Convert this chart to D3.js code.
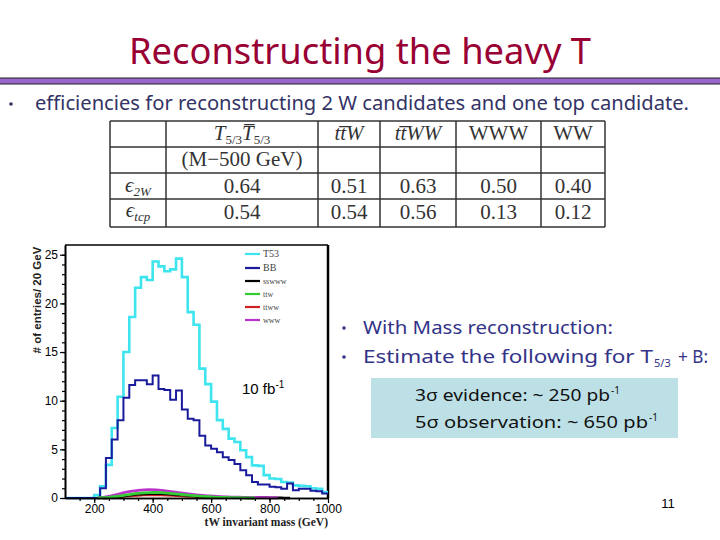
<!DOCTYPE html>
<html><head><meta charset="utf-8">
<script src="https://cdn.jsdelivr.net/npm/d3@7"></script>
<style>body{margin:0;background:#fff}svg{display:block}</style>
</head><body>
<svg id="c" width="720" height="540"></svg>
<script>
// ---- data ----
const binStart = [100,120,140,160,180,200,220,240,260,280,300,320,340,360,380,400,420,440,460,480,500,520,540,560,580,600,620,640,660,680,700,720,740,760,780,800,820,840,860,880,900,920,940,960,980];
const binWidth = 20;
const t53   = [0,0,0,0,0,0.3,1.2,3.4,7.2,10.4,15.0,18.6,21.6,22.7,22.4,24.3,23.8,23.3,23.5,24.6,22.7,19.1,17.8,13.3,11.7,9.9,8.0,7.1,6.1,5.75,4.9,4.2,3.35,3.3,2.35,2.0,1.95,1.65,1.6,1.3,1.25,1.2,1.0,0.95,0.6];
const bb    = [0,0,0,0,0,0,1.0,4.1,6.0,8.0,10.3,11.6,12.1,12.1,11.7,12.6,11.2,11.1,10.1,11.05,9.1,8.15,8.0,6.4,5.4,5.05,4.7,4.2,3.9,3.5,2.85,2.35,1.65,1.4,1.4,1.15,1.1,0.95,1.5,0.8,0.95,0.95,0.75,0.7,0.45];
const sswww = [0,0,0,0,0,0,0,0.03,0.08,0.15,0.24,0.32,0.38,0.42,0.44,0.45,0.43,0.4,0.36,0.32,0.27,0.23,0.19,0.15,0.12,0.09,0.07,0.05,0.04,0.03,0.03,0.05,0.06,0.05,0.04,0.03,0.02,0.01,0,0,0,0,0,0,0];
const ttw   = [0,0,0,0,0,0,0.02,0.06,0.13,0.22,0.32,0.41,0.48,0.53,0.56,0.57,0.55,0.5,0.45,0.39,0.33,0.27,0.22,0.17,0.13,0.1,0.07,0.05,0.04,0.03,0.02,0.01,0,0,0,0,0,0,0,0,0,0,0,0,0];
const ttww  = [0,0,0,0,0,0,0,0.03,0.07,0.12,0.18,0.23,0.27,0.3,0.31,0.31,0.3,0.28,0.25,0.22,0.19,0.16,0.13,0.1,0.08,0.06,0.05,0.04,0.03,0.02,0.02,0.01,0,0,0,0,0,0,0,0,0,0,0,0,0];
const www   = [0,0,0,0,0,0,0.05,0.15,0.3,0.45,0.6,0.7,0.78,0.85,0.88,0.83,0.78,0.7,0.62,0.55,0.48,0.4,0.33,0.27,0.22,0.18,0.15,0.12,0.1,0.08,0.07,0.06,0.05,0.04,0.03,0.02,0,0,0,0,0,0,0,0,0];
const legendNames = ["T53","BB","sswww","ttw","ttww","www"];
const legendColors = ["#3ee4ee","#1a1a9c","#000000","#33cc33","#cc2222","#bb33cc"];
const yMajor = [0,5,10,15,20,25];
const xMajor = [200,400,600,800,1000];

const colHeads = ["(M\u2212500 GeV)"];
const eff2W  = ["0.64","0.51","0.63","0.50","0.40"];
const effTop = ["0.54","0.54","0.56","0.13","0.12"];

// ---- slide ----
const svg = d3.select("#c");
const comic = "'Comic Sans MS','Noto Sans',sans-serif";

svg.append("text").attr("x",360).attr("y",64).attr("text-anchor","middle")
  .attr("font-family",comic).attr("font-size",36).attr("fill","#990033")
  .attr("textLength",462).attr("lengthAdjust","spacingAndGlyphs")
  .text("Reconstructing the heavy T");
svg.append("rect").attr("x",-1).attr("y",78).attr("width",722).attr("height",6)
  .attr("fill","#9966cc").attr("stroke","#222").attr("stroke-width",1);

svg.append("circle").attr("cx",11).attr("cy",104).attr("r",1.8).attr("fill","#333366");
svg.append("text").attr("x",35).attr("y",110).attr("font-family",comic).attr("font-size",19).attr("fill","#333366")
  .attr("textLength",654).attr("lengthAdjust","spacingAndGlyphs")
  .text("efficiencies for reconstructing 2 W candidates and one top candidate.");

// ---- table ----
const tx = [110,166,318,380,456,541,605];
const ty = [121,147,173,199,227];
const tg = svg.append("g").attr("stroke","#333").attr("stroke-width",1.5);
ty.forEach(y=>tg.append("line").attr("x1",tx[0]).attr("x2",tx[6]).attr("y1",y).attr("y2",y));
tx.forEach(x=>tg.append("line").attr("x1",x).attr("x2",x).attr("y1",ty[0]).attr("y2",ty[4]));
const serif = "'Liberation Serif','DejaVu Serif',serif";
const cx = i => (tx[i]+tx[i+1])/2;
function cell(i, row, builder){
  const t = svg.append("text").attr("x",cx(i)).attr("y",row).attr("text-anchor","middle")
    .attr("font-family",serif).attr("font-size",21).attr("fill","#333");
  builder(t);
  return t;
}
cell(1,140,t=>{
  t.append("tspan").attr("font-style","italic").text("T");
  t.append("tspan").attr("font-size",13).attr("dy",4).text("5/3");
  t.append("tspan").attr("font-style","italic").attr("dy",-4).text("T\u0305");
  t.append("tspan").attr("font-size",13).attr("dy",4).text("5/3");
});
cell(2,140,t=>{ t.attr("font-style","italic").text("tt\u0305W"); });
cell(3,140,t=>{ t.attr("font-style","italic").text("tt\u0305WW"); });
cell(4,140,t=>{ t.text("WWW"); });
cell(5,140,t=>{ t.text("WW"); });
cell(1,166,t=>{ t.text(colHeads[0]); });
eff2W.forEach((v,k)=>cell(k+1,193,t=>t.text(v)));
effTop.forEach((v,k)=>cell(k+1,219,t=>t.text(v)));
cell(0,192,t=>{
  t.append("tspan").attr("font-style","italic").text("\u03F5");
  t.append("tspan").attr("font-style","italic").attr("font-size",13).attr("dy",4).text("2W");
});
cell(0,217,t=>{
  t.append("tspan").attr("font-style","italic").text("\u03F5");
  t.append("tspan").attr("font-style","italic").attr("font-size",13).attr("dy",4).text("tcp");
});

// ---- histogram ----
const L=65, R=328, T=245, B=498;
const x = d3.scaleLinear().domain([100,1000]).range([L,R]);
const y = d3.scaleLinear().domain([0,26]).range([B,T]);
const sans = "'Liberation Sans',Arial,sans-serif";

svg.append("line").attr("x1",L).attr("x2",R).attr("y1",T).attr("y2",T).attr("stroke","#000").attr("stroke-width",1.5);
svg.append("line").attr("x1",R).attr("x2",R).attr("y1",T).attr("y2",B).attr("stroke","#000").attr("stroke-width",2.5);

svg.append("clipPath").attr("id","pc").append("rect").attr("x",L).attr("y",T).attr("width",R-L).attr("height",B-T+2);
const plot = svg.append("g").attr("clip-path","url(#pc)");
function stepPts(vals){
  const pts = vals.map((v,i)=>[binStart[i],v]);
  pts.push([binStart[binStart.length-1]+binWidth, vals[vals.length-1]]);
  return pts;
}
const line = d3.line().x(d=>x(d[0])).y(d=>y(d[1])).curve(d3.curveStepAfter);
function drawHist(vals,color,w){
  plot.append("path").attr("d",line(stepPts(vals))).attr("fill","none")
    .attr("stroke",color).attr("stroke-width",w).attr("stroke-linejoin","miter");
}
function drawSmooth(vals,color,w,lo,hi){
  const idx = d3.range(lo,hi);
  plot.append("path").attr("d",d3.line().x(i=>x(binStart[i]+binWidth/2)).y(i=>y(vals[i])).curve(d3.curveBasis)(idx))
    .attr("fill","none").attr("stroke",color).attr("stroke-width",w);
}
drawHist(t53,legendColors[0],2.6);
drawHist(bb,legendColors[1],2);
drawSmooth(ttww,legendColors[4],2.5,6,33);
drawSmooth(sswww,legendColors[2],2.5,6,39);
drawSmooth(www,legendColors[5],2.8,5,37);
drawSmooth(ttw,legendColors[3],2.8,5,33);

const yAx = svg.append("g").attr("transform",`translate(${L},0)`);
yAx.call(d3.axisLeft(y).tickValues(yMajor).tickSize(5).tickPadding(2).tickSizeOuter(0));
const yMin = svg.append("g").attr("transform",`translate(${L},0)`);
yMin.call(d3.axisLeft(y).tickValues(d3.range(0,26)).tickSize(3).tickFormat("").tickSizeOuter(0));
const xAx = svg.append("g").attr("transform",`translate(0,${B})`);
xAx.call(d3.axisBottom(x).tickValues(xMajor).tickSize(5).tickPadding(1).tickFormat(d3.format("d")).tickSizeOuter(0));
const xMin = svg.append("g").attr("transform",`translate(0,${B})`);
xMin.call(d3.axisBottom(x).tickValues(d3.range(150,1000,50)).tickSize(3).tickFormat("").tickSizeOuter(0));
[yAx,yMin,xAx,xMin].forEach(g=>{
  g.selectAll("path").attr("stroke","#000").attr("stroke-width",1.6);
  g.selectAll("line").attr("stroke","#000").attr("stroke-width",1.2);
  g.selectAll("text").attr("font-family",sans).attr("font-size",12).attr("fill","#000");
});

svg.append("text").attr("transform","translate(41,300) rotate(-90)").attr("text-anchor","middle")
  .attr("font-family",sans).attr("font-weight","bold").attr("font-size",11.5).attr("fill","#222")
  .text("# of entries/ 20 GeV");
svg.append("text").attr("x",328).attr("y",526).attr("text-anchor","end")
  .attr("font-family",serif).attr("font-weight","bold").attr("font-size",11.5).attr("fill","#222")
  .text("tW invariant mass (GeV)");

const lum = svg.append("text").attr("x",242).attr("y",394).attr("font-family",sans).attr("font-size",15).attr("fill","#000");
lum.append("tspan").text("10 fb");
lum.append("tspan").attr("font-size",10).attr("dy",-6).text("-1");

const legY = [254,268,281,294,307,320];
legendNames.forEach((n,i)=>{
  svg.append("line").attr("x1",245).attr("x2",260).attr("y1",legY[i]).attr("y2",legY[i])
    .attr("stroke",legendColors[i]).attr("stroke-width",2.2);
  svg.append("text").attr("x",263).attr("y",legY[i]+3).attr("font-family",serif).attr("font-size",i<2?10:8)
    .attr("fill","#444").text(n);
});

// ---- right column ----
const navy = "#333388";
svg.append("circle").attr("cx",344).attr("cy",328).attr("r",1.8).attr("fill",navy);
svg.append("circle").attr("cx",344).attr("cy",357).attr("r",1.8).attr("fill",navy);
svg.append("text").attr("x",363).attr("y",334).attr("font-family",comic).attr("font-size",18).attr("fill",navy)
  .attr("textLength",250).attr("lengthAdjust","spacingAndGlyphs").text("With Mass reconstruction:");
svg.append("text").attr("x",363).attr("y",363).attr("font-family",comic).attr("font-size",18).attr("fill",navy)
  .attr("textLength",290).attr("lengthAdjust","spacingAndGlyphs").text("Estimate the following for T");
svg.append("text").attr("x",654).attr("y",367).attr("font-family",comic).attr("font-size",11).attr("fill",navy).text("5/3");
svg.append("text").attr("x",678).attr("y",363).attr("font-family",comic).attr("font-size",18).attr("fill",navy)
  .attr("textLength",30).attr("lengthAdjust","spacingAndGlyphs").text("+ B:");

svg.append("rect").attr("x",371).attr("y",378).attr("width",307).attr("height",60).attr("fill","#bde0e6");
svg.append("text").attr("x",415).attr("y",401).attr("font-family",comic).attr("font-size",17).attr("fill","#111")
  .attr("textLength",195).attr("lengthAdjust","spacingAndGlyphs").text("3\u03C3 evidence: ~ 250 pb");
svg.append("text").attr("x",611).attr("y",394).attr("font-family",comic).attr("font-size",10).attr("fill","#111").text("-1");
svg.append("text").attr("x",415).attr("y",428).attr("font-family",comic).attr("font-size",17).attr("fill","#111")
  .attr("textLength",233).attr("lengthAdjust","spacingAndGlyphs").text("5\u03C3 observation: ~ 650 pb");
svg.append("text").attr("x",649).attr("y",421).attr("font-family",comic).attr("font-size",10).attr("fill","#111").text("-1");

svg.append("text").attr("x",668).attr("y",508).attr("text-anchor","middle").attr("font-family",sans).attr("font-size",13).attr("fill","#000").text("11");
</script>
</body></html>
